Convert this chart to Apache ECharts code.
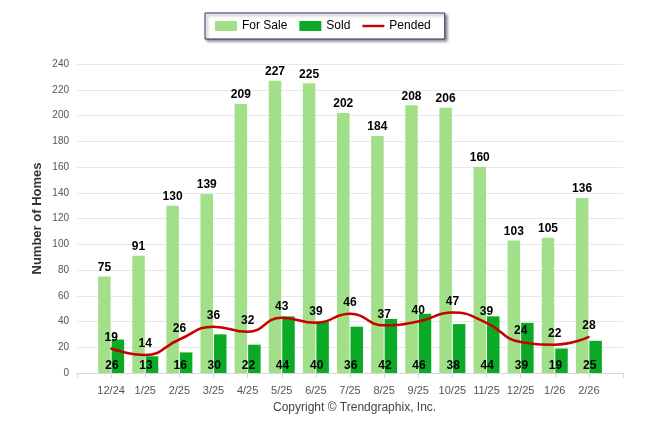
<!DOCTYPE html>
<html>
<head>
<meta charset="utf-8">
<script src="https://cdn.jsdelivr.net/npm/echarts@6/dist/echarts.min.js"></script>
<style>
  html, body { margin: 0; padding: 0; background: #fff; }
  #chart { width: 646px; height: 434px; }
</style>
</head>
<body>
<div id="chart"></div>
<script>
var months = ['12/24', '1/25', '2/25', '3/25', '4/25', '5/25', '6/25', '7/25', '8/25', '9/25', '10/25', '11/25', '12/25', '1/26', '2/26'];
var forSale = [75, 91, 130, 139, 209, 227, 225, 202, 184, 208, 206, 160, 103, 105, 136];
var sold = [26, 13, 16, 30, 22, 44, 40, 36, 42, 46, 38, 44, 39, 19, 25];
var pended = [19, 14, 26, 36, 32, 43, 39, 46, 37, 40, 47, 39, 24, 22, 28];

(function() {
  var myChart = echarts.init(document.getElementById('chart'));

  // one empty slot each side, the original leaves a full step of room at both ends
  function pad(arr, v) {
    return [v].concat(arr, [v]);
  }

  var labelFont = { color: '#000', fontWeight: 'bold', fontSize: 12, fontFamily: 'Liberation Sans' };

  var option = {
    animation: false,
    textStyle: { fontFamily: 'Liberation Sans' },
    graphic: [{
      type: 'text',
      left: 273,
      top: 402,
      style: { text: 'Copyright \u00a9 Trendgraphix, Inc.', fill: '#444', font: '12px "Liberation Sans"' }
    }],
    legend: {
      top: 13,
      left: 205,
      padding: [7, 14, 7, 10],
      itemWidth: 22,
      itemHeight: 10,
      itemGap: 12,
      borderColor: '#1f3864',
      borderWidth: 1,
      backgroundColor: '#fff',
      shadowColor: 'rgba(0,0,0,0.45)',
      shadowBlur: 3,
      shadowOffsetX: 2,
      shadowOffsetY: 2,
      textStyle: { color: '#000', fontSize: 12, fontFamily: 'Liberation Sans' },
      data: [
        { name: 'For Sale', icon: 'rect' },
        { name: 'Sold', icon: 'rect' },
        { name: 'Pended', icon: 'path://M0,0 L22,0 L22,2.4 L0,2.4 Z' }
      ]
    },
    grid: { left: 77, right: 23, top: 64, bottom: 61 },
    xAxis: {
      type: 'category',
      boundaryGap: false,
      data: pad(months, ''),
      axisLine: { lineStyle: { color: '#d8d8d8' } },
      axisTick: { show: true, length: 5, lineStyle: { color: '#d8d8d8' } },
      axisLabel: { color: '#555', fontSize: 11, margin: 12, interval: 0 },
      splitLine: { show: false }
    },
    yAxis: {
      type: 'value',
      min: 0,
      max: 240,
      interval: 20,
      name: 'Number of Homes',
      nameLocation: 'middle',
      nameGap: 33,
      nameMoveOverlap: false,
      nameTextStyle: { color: '#333', fontSize: 13, fontWeight: 'bold' },
      axisLine: { show: false },
      axisTick: { show: false },
      axisLabel: { color: '#555', fontSize: 10, margin: 8 },
      splitLine: { lineStyle: { color: '#e8e8e8' } }
    },
    series: [
      {
        name: 'For Sale',
        type: 'bar',
        barWidth: 12.5,
        barGap: '8%',
        itemStyle: { color: '#a2df89' },
        label: Object.assign({ show: true, position: 'top', distance: 3 }, labelFont),
        data: pad(forSale, '-')
      },
      {
        name: 'Sold',
        type: 'bar',
        barWidth: 12.5,
        itemStyle: { color: '#0aaa27' },
        label: Object.assign({ show: true, position: 'insideBottom', distance: 1, offset: [-6, 0] }, labelFont),
        data: pad(sold, '-')
      },
      {
        name: 'Pended',
        type: 'line',
        smooth: true,
        z: 5,
        symbol: 'circle',
        symbolSize: 2,
        itemStyle: { color: '#c80000' },
        lineStyle: { color: '#c80000', width: 2.5 },
        label: Object.assign({ show: true, position: 'top', distance: 4 }, labelFont),
        data: pad(pended, '-')
      }
    ]
  };
  myChart.setOption(option);
  window.addEventListener('resize', function() {
    myChart.resize();
  });
})();
</script>
</body>
</html>
